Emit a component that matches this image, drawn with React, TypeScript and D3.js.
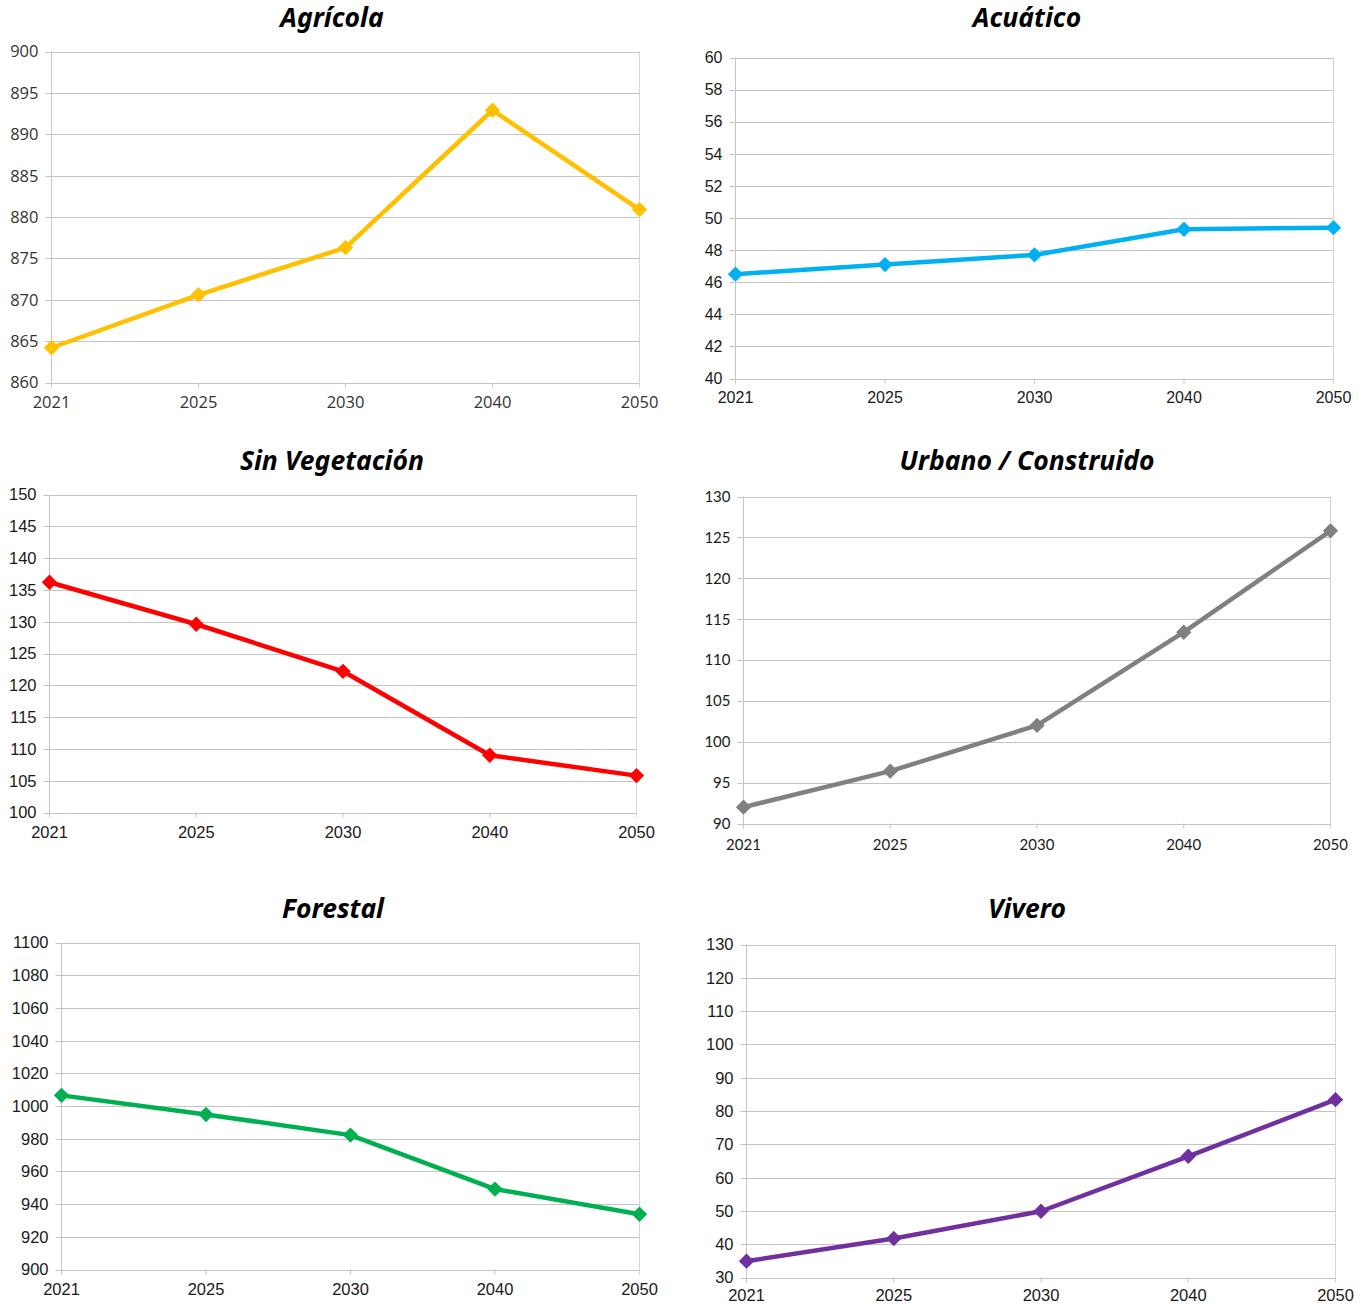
import React, { useEffect, useRef } from 'react';
import * as d3 from 'd3';

// categories (evenly spaced, like an Excel category axis)
const years = ['2021', '2025', '2030', '2040', '2050'];

// series values
const agricola = [864.2, 870.6, 876.3, 892.9, 880.9];
const acuatico = [46.5, 47.1, 47.7, 49.3, 49.4];
const sinVegetacion = [136.2, 129.6, 122.2, 109.0, 105.8];
const urbano = [92.0, 96.4, 102.0, 113.4, 125.8];
const forestal = [1006.5, 994.8, 982.2, 949.2, 933.8];
const vivero = [34.9, 41.7, 49.9, 66.4, 83.4];

// y axis ranges [min, max, step]
const agricolaAxis = [860, 900, 5];
const acuaticoAxis = [40, 60, 2];
const sinVegetacionAxis = [100, 150, 5];
const urbanoAxis = [90, 130, 5];
const forestalAxis = [900, 1100, 20];
const viveroAxis = [30, 130, 10];

interface Panel {
    title: string;
    values: number[];
    axis: number[];
    color: string;
    left: number;
    right: number;
    top: number;
    bottom: number;
    titleX: number;
    titleY: number;
    font: string;
    fontSize: number;
    fontWeight: number;
    textColor: string;
    xLabelY: number;
}

const ARIAL = "'Liberation Sans', Arial, sans-serif";

const panels: Panel[] = [
    {
        title: 'Agrícola', values: agricola, axis: agricolaAxis, color: '#FFC000',
        left: 51.5, right: 639.5, top: 51.5, bottom: 382.5, titleX: 332, titleY: 27,
        font: "'Open Sans', sans-serif", fontSize: 16.5, fontWeight: 400, textColor: '#333', xLabelY: 408,
    },
    {
        title: 'Acuático', values: acuatico, axis: acuaticoAxis, color: '#00B0F0',
        left: 735.5, right: 1333.5, top: 57.5, bottom: 378.5, titleX: 1027, titleY: 27,
        font: ARIAL, fontSize: 16, fontWeight: 400, textColor: '#1a1a1a', xLabelY: 403,
    },
    {
        title: 'Sin Vegetación', values: sinVegetacion, axis: sinVegetacionAxis, color: '#FF0000',
        left: 49.5, right: 636.5, top: 494.5, bottom: 812.5, titleX: 332, titleY: 470,
        font: ARIAL, fontSize: 16.5, fontWeight: 400, textColor: '#1a1a1a', xLabelY: 838,
    },
    {
        title: 'Urbano / Construido', values: urbano, axis: urbanoAxis, color: '#808080',
        left: 743.5, right: 1330.5, top: 496.5, bottom: 823.5, titleX: 1027, titleY: 470,
        font: "Lato, sans-serif", fontSize: 15, fontWeight: 400, textColor: '#1a1a1a', xLabelY: 850,
    },
    {
        title: 'Forestal', values: forestal, axis: forestalAxis, color: '#00B050',
        left: 61.5, right: 639.5, top: 942.5, bottom: 1269.5, titleX: 333, titleY: 918,
        font: ARIAL, fontSize: 16.5, fontWeight: 400, textColor: '#1a1a1a', xLabelY: 1295,
    },
    {
        title: 'Vivero', values: vivero, axis: viveroAxis, color: '#7030A0',
        left: 746.5, right: 1335.5, top: 944.5, bottom: 1277.5, titleX: 1027, titleY: 918,
        font: ARIAL, fontSize: 16.5, fontWeight: 400, textColor: '#1a1a1a', xLabelY: 1301,
    },
];

export default function App() {
    const svgRef = useRef<SVGSVGElement>(null);

    useEffect(() => {
        if (!svgRef.current) return;
        const svg = d3.select(svgRef.current);
        svg.selectAll('*').remove();

        panels.forEach(p => {
            const g = svg.append('g');
            const [lo, hi, step] = p.axis;

            const x = d3.scalePoint<string>().domain(years).range([p.left, p.right]);
            const y = d3.scaleLinear().domain([lo, hi]).range([p.bottom, p.top]);
            const ticks = d3.range(lo, hi + step / 2, step);

            // gridlines
            g.selectAll('.grid')
                .data(ticks)
                .enter().append('line')
                .attr('x1', p.left - 6)
                .attr('x2', p.right)
                .attr('y1', d => Math.round(y(d)) + 0.5)
                .attr('y2', d => Math.round(y(d)) + 0.5)
                .attr('stroke', '#c4c4c4')
                .attr('stroke-width', 1);

            // left axis + right border
            g.append('line')
                .attr('x1', p.left).attr('x2', p.left)
                .attr('y1', p.top).attr('y2', p.bottom + 5)
                .attr('stroke', '#c4c4c4');
            g.append('line')
                .attr('x1', p.right).attr('x2', p.right)
                .attr('y1', p.top).attr('y2', p.bottom + 5)
                .attr('stroke', '#d4d4d4');

            // x tick marks
            g.selectAll('.xtick')
                .data(years.slice(1, -1))
                .enter().append('line')
                .attr('x1', d => x(d)!)
                .attr('x2', d => x(d)!)
                .attr('y1', p.bottom)
                .attr('y2', p.bottom + 5)
                .attr('stroke', '#c4c4c4');

            // y labels
            g.selectAll('.ylabel')
                .data(ticks)
                .enter().append('text')
                .attr('x', p.left - 13)
                .attr('y', d => y(d))
                .attr('dy', '0.36em')
                .attr('text-anchor', 'end')
                .style('font-family', p.font)
                .style('font-size', `${p.fontSize}px`)
                .style('font-weight', p.fontWeight)
                .style('fill', p.textColor)
                .text(d => d3.format('d')(d));

            // x labels
            g.selectAll('.xlabel')
                .data(years)
                .enter().append('text')
                .attr('x', d => x(d)!)
                .attr('y', p.xLabelY)
                .attr('text-anchor', 'middle')
                .style('font-family', p.font)
                .style('font-size', `${p.fontSize}px`)
                .style('font-weight', p.fontWeight)
                .style('fill', p.textColor)
                .text(d => d);

            // title
            g.append('text')
                .attr('x', p.titleX)
                .attr('y', p.titleY)
                .attr('text-anchor', 'middle')
                .style('font-family', "'Noto Sans', sans-serif")
                .style('font-size', '26.5px')
                .style('font-weight', 700)
                .style('font-style', 'italic')
                .style('fill', '#000')
                .text(p.title);

            // series line
            const line = d3.line<number>()
                .x((_, i) => x(years[i])!)
                .y(d => y(d));

            g.append('path')
                .datum(p.values)
                .attr('d', line)
                .attr('fill', 'none')
                .attr('stroke', p.color)
                .attr('stroke-width', 4.5)
                .attr('stroke-linejoin', 'round');

            // diamond markers
            const diamond = d3.symbol().type(d3.symbolDiamond2).size(150);
            g.selectAll('.marker')
                .data(p.values)
                .enter().append('path')
                .attr('d', diamond)
                .attr('transform', (d, i) => `translate(${x(years[i])},${y(d)})`)
                .attr('fill', p.color);
        });
    }, []);

    return (
        <svg
            ref={svgRef}
            width={1368}
            height={1304}
            style={{ position: 'absolute', left: 0, top: 0, background: '#fff' }}
        />
    );
}
